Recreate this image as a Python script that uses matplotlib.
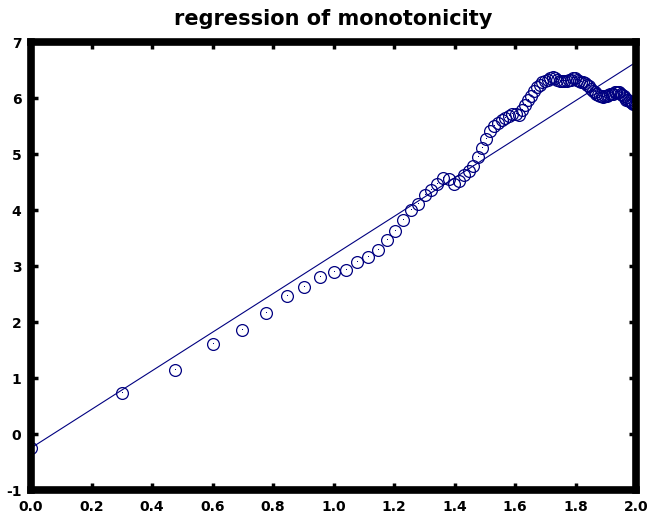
import numpy as np
import matplotlib
matplotlib.use("Agg")
import matplotlib.pyplot as plt

# sample index n = 1..100, x axis shows log10(n)
n_values = np.arange(1, 101)

# log response, one per n
log_response = [
    -0.25, 0.73, 1.14, 1.61, 1.86, 2.16, 2.46, 2.62, 2.81, 2.89,
    2.93, 3.07, 3.16, 3.29, 3.46, 3.63, 3.82, 4.00, 4.11, 4.26,
    4.36, 4.46, 4.57, 4.55, 4.47, 4.52, 4.62, 4.70, 4.79, 4.95,
    5.11, 5.27, 5.41, 5.50, 5.56, 5.61, 5.64, 5.68, 5.71, 5.72,
    5.70, 5.79, 5.88, 5.96, 6.04, 6.12, 6.19, 6.24, 6.28, 6.30,
    6.33, 6.36, 6.37, 6.35, 6.33, 6.31, 6.30, 6.30, 6.31, 6.32,
    6.33, 6.35, 6.35, 6.33, 6.31, 6.29, 6.28, 6.26, 6.23, 6.21,
    6.16, 6.12, 6.10, 6.07, 6.05, 6.04, 6.03, 6.02, 6.03, 6.04,
    6.05, 6.07, 6.08, 6.08, 6.10, 6.11, 6.11, 6.10, 6.07, 6.05,
    6.03, 6.00, 5.97, 5.96, 5.94, 5.92, 5.91, 5.90, 5.90, 5.88,
]

# fitted regression line
fit_slope = 3.445
fit_intercept = -0.25

x_ticks = [0.0, 0.2, 0.4, 0.6, 0.8, 1.0, 1.2, 1.4, 1.6, 1.8, 2.0]
y_ticks = [-1, 0, 1, 2, 3, 4, 5, 6, 7]

navy = "#000080"

fig = plt.figure(figsize=(6.49, 5.17), dpi=100)
ax = fig.add_axes([31 / 649, 27 / 517, 605 / 649, 448 / 517])

x = np.log10(n_values)
ax.plot(x, log_response, "o", mfc="none", mec=navy, ms=8.5, mew=0.9)
ax.plot(x, log_response, ",", color=navy)

x_fit = np.array([0.0, 2.0])
ax.plot(x_fit, fit_intercept + fit_slope * x_fit, "-", color=navy, lw=0.8)

ax.set_xlim(0, 2)
ax.set_ylim(-1, 7)
ax.set_xticks(x_ticks)
ax.set_xticklabels([f"{t:.1f}" for t in x_ticks])
ax.set_yticks(y_ticks)
ax.set_yticklabels([str(t) for t in y_ticks])

for spine in ax.spines.values():
    spine.set_linewidth(5.5)
    spine.set_color("black")
ax.tick_params(direction="in", length=5, width=2.5, top=True, right=True,
               labelsize=10, pad=7)
for lab in ax.get_xticklabels() + ax.get_yticklabels():
    lab.set_fontweight("bold")

ax.set_title("regression of monotonicity", fontsize=15, fontweight="bold",
             pad=12)

fig.savefig("out.png", dpi=100)
